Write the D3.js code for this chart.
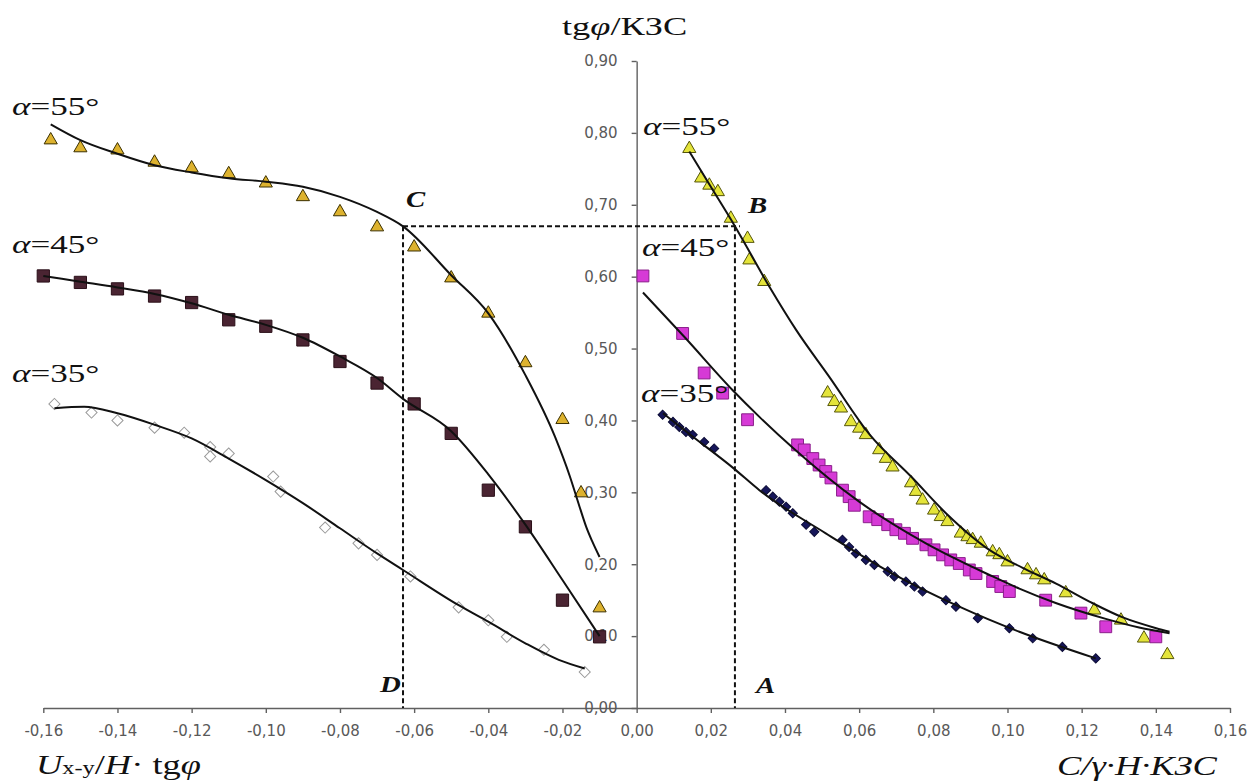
<!DOCTYPE html>
<html>
<head>
<meta charset="utf-8">
<script src="https://cdn.jsdelivr.net/npm/d3@7"></script>
<style>
  html, body { margin: 0; padding: 0; background: #fff; }
</style>
</head>
<body>
<div id="chart"></div>
<script>
// ---- data ----
// left half: U(x-y)/H·tgφ (negative x)
const left55X = [-0.158, -0.150, -0.140, -0.130, -0.120, -0.110, -0.100, -0.090, -0.080, -0.070, -0.060, -0.050, -0.040, -0.030, -0.020, -0.015, -0.010];
const left55Y = [0.790, 0.779, 0.776, 0.759, 0.751, 0.743, 0.730, 0.711, 0.690, 0.669, 0.641, 0.598, 0.549, 0.480, 0.401, 0.299, 0.139];
const left55FitX = [-0.158, -0.150, -0.140, -0.130, -0.120, -0.110, -0.100, -0.090, -0.080, -0.070, -0.063, -0.050, -0.040, -0.030, -0.022, -0.018, -0.0154, -0.0136, -0.012, -0.010];
const left55FitY = [0.812, 0.790, 0.771, 0.755, 0.745, 0.737, 0.732, 0.725, 0.711, 0.690, 0.670, 0.602, 0.549, 0.463, 0.377, 0.322, 0.280, 0.252, 0.232, 0.210];

const left45X = [-0.160, -0.150, -0.140, -0.130, -0.120, -0.110, -0.100, -0.090, -0.080, -0.070, -0.060, -0.050, -0.040, -0.030, -0.020, -0.010];
const left45Y = [0.601, 0.592, 0.583, 0.573, 0.564, 0.540, 0.531, 0.512, 0.482, 0.452, 0.423, 0.382, 0.303, 0.252, 0.150, 0.099];
const left45FitX = [-0.160, -0.150, -0.140, -0.130, -0.120, -0.110, -0.100, -0.090, -0.080, -0.070, -0.063, -0.050, -0.040, -0.030, -0.020, -0.010];
const left45FitY = [0.601, 0.593, 0.585, 0.576, 0.563, 0.547, 0.533, 0.515, 0.489, 0.459, 0.430, 0.385, 0.325, 0.255, 0.178, 0.100];

const left35X = [-0.157, -0.147, -0.140, -0.130, -0.122, -0.115, -0.115, -0.110, -0.098, -0.096, -0.084, -0.075, -0.070, -0.061, -0.048, -0.040, -0.035, -0.025, -0.014];
const left35Y = [0.423, 0.411, 0.400, 0.390, 0.383, 0.363, 0.350, 0.354, 0.322, 0.301, 0.251, 0.229, 0.213, 0.183, 0.140, 0.122, 0.099, 0.081, 0.050];
const left35FitX = [-0.157, -0.149, -0.140, -0.130, -0.120, -0.110, -0.100, -0.090, -0.080, -0.070, -0.063, -0.048, -0.040, -0.030, -0.021, -0.014];
const left35FitY = [0.417, 0.419, 0.410, 0.394, 0.375, 0.347, 0.317, 0.285, 0.250, 0.215, 0.192, 0.143, 0.120, 0.090, 0.067, 0.055];

// right half: C/γ·H·КЗС
const right55X = [0.0142, 0.0174, 0.0196, 0.0219, 0.0254, 0.0299, 0.0304, 0.0344, 0.0515, 0.0533, 0.0551, 0.0578, 0.0600, 0.0618, 0.0654, 0.0672, 0.0690, 0.0740, 0.0753, 0.0771, 0.0802, 0.0820, 0.0838, 0.0874, 0.0892, 0.0906, 0.0928, 0.0960, 0.0978, 0.1000, 0.1054, 0.1077, 0.1099, 0.1157, 0.1234, 0.1306, 0.1368, 0.1431];
const right55Y = [0.778, 0.737, 0.727, 0.718, 0.681, 0.653, 0.623, 0.593, 0.438, 0.426, 0.417, 0.398, 0.389, 0.380, 0.359, 0.347, 0.335, 0.313, 0.301, 0.289, 0.275, 0.266, 0.259, 0.243, 0.238, 0.234, 0.229, 0.217, 0.213, 0.203, 0.192, 0.185, 0.178, 0.160, 0.136, 0.122, 0.097, 0.074];
const right55FitX = [0.0142, 0.0200, 0.0263, 0.0358, 0.0430, 0.0519, 0.0629, 0.0740, 0.0834, 0.0951, 0.1041, 0.1131, 0.1221, 0.1311, 0.1401, 0.1437];
const right55FitY = [0.774, 0.725, 0.672, 0.586, 0.526, 0.461, 0.380, 0.322, 0.271, 0.220, 0.195, 0.173, 0.148, 0.126, 0.111, 0.106];

const right45X = [0.0017, 0.0124, 0.0182, 0.0232, 0.0299, 0.0434, 0.0452, 0.0475, 0.0492, 0.0510, 0.0524, 0.0555, 0.0573, 0.0587, 0.0627, 0.0650, 0.0677, 0.0699, 0.0722, 0.0744, 0.0780, 0.0802, 0.0825, 0.0847, 0.0870, 0.0897, 0.0915, 0.0960, 0.0982, 0.1005, 0.1103, 0.1198, 0.1265, 0.1400];
const right45Y = [0.601, 0.521, 0.466, 0.438, 0.401, 0.366, 0.359, 0.347, 0.338, 0.329, 0.320, 0.303, 0.294, 0.282, 0.266, 0.262, 0.255, 0.248, 0.243, 0.236, 0.227, 0.220, 0.213, 0.206, 0.201, 0.192, 0.187, 0.176, 0.169, 0.162, 0.150, 0.132, 0.113, 0.099];
const right45FitX = [0.0017, 0.0129, 0.0259, 0.0331, 0.0421, 0.0600, 0.0780, 0.0960, 0.1032, 0.1130, 0.1265, 0.1355, 0.1437];
const right45FitY = [0.578, 0.516, 0.442, 0.405, 0.362, 0.287, 0.229, 0.183, 0.166, 0.146, 0.124, 0.112, 0.104];

const right35X = [0.0070, 0.0098, 0.0115, 0.0133, 0.0151, 0.0182, 0.0209, 0.0349, 0.0367, 0.0385, 0.0403, 0.0421, 0.0457, 0.0479, 0.0555, 0.0573, 0.0591, 0.0618, 0.0641, 0.0677, 0.0695, 0.0726, 0.0749, 0.0771, 0.0834, 0.0861, 0.0920, 0.1005, 0.1068, 0.1148, 0.1238];
const right35Y = [0.408, 0.398, 0.391, 0.384, 0.380, 0.370, 0.361, 0.303, 0.294, 0.287, 0.280, 0.271, 0.255, 0.245, 0.234, 0.224, 0.215, 0.206, 0.199, 0.190, 0.183, 0.176, 0.169, 0.162, 0.150, 0.141, 0.125, 0.111, 0.097, 0.085, 0.069];
const right35FitX = [0.0071, 0.0150, 0.0260, 0.0331, 0.0510, 0.0690, 0.0870, 0.1032, 0.1238];
const right35FitY = [0.410, 0.378, 0.334, 0.303, 0.243, 0.187, 0.141, 0.106, 0.069];

// construction lines C-B, C-D, B-A
const pointC = [-0.063, 0.67];
const pointB = [0.0265, 0.67];

// axis ticks
const xTickValues = [-0.16, -0.14, -0.12, -0.10, -0.08, -0.06, -0.04, -0.02, 0, 0.02, 0.04, 0.06, 0.08, 0.10, 0.12, 0.14, 0.16];
const xTickLabels = ["-0,16", "-0,14", "-0,12", "-0,10", "-0,08", "-0,06", "-0,04", "-0,02", "0,00", "0,02", "0,04", "0,06", "0,08", "0,10", "0,12", "0,14", "0,16"];
const yTickValues = [0, 0.1, 0.2, 0.3, 0.4, 0.5, 0.6, 0.7, 0.8, 0.9];
const yTickLabels = ["0,00", "0,10", "0,20", "0,30", "0,40", "0,50", "0,60", "0,70", "0,80", "0,90"];

// ---- drawing ----
const width = 1260, height = 784;
const svg = d3.select("#chart").append("svg")
    .attr("width", width)
    .attr("height", height)
    .style("background", "#fff");

const xScale = d3.scaleLinear().domain([-0.16, 0.16]).range([43.3, 1230]);
const yScale = d3.scaleLinear().domain([0, 0.9]).range([708, 61]);

const zip = (xs, ys) => xs.map((x, i) => [x, ys[i]]);

// axes
const axisColor = "#606060";
const labelColor = "#595959";

const xAxis = svg.append("g")
    .attr("transform", `translate(0,${yScale(0)})`)
    .call(d3.axisBottom(xScale)
        .tickValues(xTickValues)
        .tickFormat((d, i) => xTickLabels[i])
        .tickSize(5).tickSizeOuter(0).tickPadding(12));

const yAxis = svg.append("g")
    .attr("transform", `translate(${xScale(0)},0)`)
    .call(d3.axisLeft(yScale)
        .tickValues(yTickValues)
        .tickFormat((d, i) => yTickLabels[i])
        .tickSize(5).tickSizeOuter(0).tickPadding(14));

[xAxis, yAxis].forEach(ax => {
    ax.select(".domain").attr("stroke", axisColor).attr("stroke-width", 1.4);
    ax.selectAll(".tick line").attr("stroke", axisColor).attr("stroke-width", 1.4);
    ax.selectAll(".tick text")
        .style("font-family", "'DejaVu Sans', Verdana, sans-serif")
        .style("font-size", "15px")
        .attr("fill", labelColor);
});

// dashed construction lines
const dash = svg.append("g")
    .attr("stroke", "#111")
    .attr("stroke-width", 2)
    .attr("stroke-dasharray", "5,3")
    .attr("fill", "none");
dash.append("line")
    .attr("x1", xScale(pointC[0])).attr("y1", yScale(pointC[1]))
    .attr("x2", xScale(pointB[0]) + 5).attr("y2", yScale(pointB[1]));
dash.append("line")
    .attr("x1", xScale(pointC[0])).attr("y1", yScale(pointC[1]))
    .attr("x2", xScale(pointC[0])).attr("y2", yScale(0));
dash.append("line")
    .attr("x1", xScale(pointB[0])).attr("y1", yScale(pointB[1]))
    .attr("x2", xScale(pointB[0])).attr("y2", yScale(0));

// markers
function drawMarkers(xs, ys, type, size, fill, stroke, rotate) {
    const sym = d3.symbol().type(type).size(size);
    svg.append("g").selectAll("path")
        .data(zip(xs, ys))
        .enter()
        .append("path")
        .attr("d", sym)
        .attr("transform", d => `translate(${xScale(d[0])},${yScale(d[1])})` + (rotate ? " rotate(45)" : ""))
        .attr("fill", fill)
        .attr("stroke", stroke)
        .attr("stroke-width", 1);
}

drawMarkers(left55X, left55Y, d3.symbolTriangle, 75, "#DDB22E", "#3b3000");
drawMarkers(left45X, left45Y, d3.symbolSquare, 150, "#4A2432", "#2a0f18");
drawMarkers(left35X, left35Y, d3.symbolSquare, 62, "#ffffff", "#9a9a9a", true);
drawMarkers(right55X, right55Y, d3.symbolTriangle, 75, "#E4E43A", "#55550a");
drawMarkers(right45X, right45Y, d3.symbolSquare, 140, "#D63AD6", "#8b1f8b");
drawMarkers(right35X, right35Y, d3.symbolSquare, 42, "#16165a", "#0b0b35", true);

// fitted curves
const line = d3.line()
    .x(d => xScale(d[0]))
    .y(d => yScale(d[1]))
    .curve(d3.curveMonotoneX);

[[left55FitX, left55FitY], [left45FitX, left45FitY], [left35FitX, left35FitY],
 [right55FitX, right55FitY], [right45FitX, right45FitY], [right35FitX, right35FitY]]
    .forEach(([xs, ys]) => {
        svg.append("path")
            .datum(zip(xs, ys))
            .attr("d", line)
            .attr("fill", "none")
            .attr("stroke", "#111")
            .attr("stroke-width", 2);
    });

// serif labels (the original figure is stretched horizontally)
function serifText(x, y, parts, size, sx, weight) {
    const t = svg.append("text")
        .attr("transform", `translate(${x},${y}) scale(${sx},1)`)
        .style("font-family", "'Liberation Serif', 'Times New Roman', serif")
        .style("font-size", size + "px")
        .style("font-weight", weight || "normal")
        .attr("fill", "#111");
    parts.forEach(p => {
        const s = t.append("tspan").text(p.t)
            .style("font-style", p.i ? "italic" : "normal");
        if (p.s) s.style("font-size", p.s + "px");
    });
    return t;
}

// title of the vertical axis
serifText(562, 35, [{ t: "tg" }, { t: "φ", i: true }, { t: "/КЗС" }], 26, 1.4);

// horizontal axis titles
serifText(36, 774, [{ t: "U", i: true }, { t: "x-y", s: 18 }, { t: "/" }, { t: "H", i: true }, { t: "· tg" }, { t: "φ", i: true }], 27, 1.35);
serifText(1057, 775, [{ t: "C/γ·H·КЗС", i: true }], 27, 1.35);

// curve labels
const alphaLabels = [
    { x: 12, y: 115, t: "=55°" }, { x: 12, y: 253, t: "=45°" }, { x: 12, y: 382, t: "=35°" },
    { x: 643, y: 135, t: "=55°" }, { x: 642, y: 256, t: "=45°" }, { x: 641, y: 402, t: "=35°" }
];
alphaLabels.forEach(l => serifText(l.x, l.y, [{ t: "α", i: true }, { t: l.t }], 26, 1.35));

// point letters
const pointLabels = [
    { x: 406, y: 207, t: "C" }, { x: 748, y: 213, t: "B" },
    { x: 380, y: 692, t: "D" }, { x: 756, y: 693, t: "A" }
];
pointLabels.forEach(l => serifText(l.x, l.y, [{ t: l.t, i: true }], 24, 1.2, "bold"));
</script>
</body>
</html>
